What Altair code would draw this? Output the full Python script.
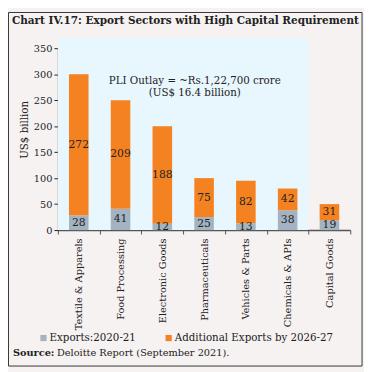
import altair as alt
import pandas as pd

categories = ["Textile & Apparels", "Food Processing", "Electronic Goods",
              "Pharmaceuticals", "Vehicles & Parts", "Chemicals & APIs", "Capital Goods"]
exports_2021 = [28, 41, 12, 25, 13, 38, 19]
additional_2027 = [272, 209, 188, 75, 82, 42, 31]
series_names = ["Exports:2020-21", "Additional Exports by 2026-27"]
series_colors = ["#a3b3c2", "#f58220"]
y_ticks = [0, 50, 100, 150, 200, 250, 300, 350]

rows = []
for i, c in enumerate(categories):
    rows.append({"sector": c, "series": series_names[0], "value": exports_2021[i], "ord": 0})
    rows.append({"sector": c, "series": series_names[1], "value": additional_2027[i], "ord": 1})
df = pd.DataFrame(rows)

SERIF = "DejaVu Serif"
W, H = 299, 186

x_axis = alt.Axis(labelAngle=-90, labelFont=SERIF, labelFontSize=10, labelColor="#222",
                  domainColor="#555", domainWidth=1.5, tickColor="#555", tickBand="extent",
                  tickSize=4, labelPadding=4)
x_scale = alt.Scale(paddingInner=0, paddingOuter=0)
y_scale = alt.Scale(domain=[0, 350], nice=False)
y_axis = alt.Axis(values=y_ticks, labelFont=SERIF, labelFontSize=10, labelColor="#222",
                  labelOverlap=False, grid=False, domainColor="#222", tickColor="#222", tickSize=4,
                  titleFont=SERIF, titleFontSize=10.5, titleFontWeight="normal",
                  titleColor="#222", titleAngle=-90, titleAlign="center", titleBaseline="middle",
                  titleX=-34, titleY=83)

base = alt.Chart(df)

bars = base.mark_bar(size=20).encode(
    x=alt.X("sector:N", sort=categories, title=None, scale=x_scale, axis=x_axis),
    y=alt.Y("value:Q", stack="zero", scale=y_scale, title="US$ billion", axis=y_axis),
    color=alt.Color("series:N", sort=series_names,
                    scale=alt.Scale(domain=series_names, range=series_colors),
                    legend=alt.Legend(title=None, orient="none", legendX=-20, legendY=291,
                                      direction="horizontal", symbolType="square", symbolSize=40,
                                      symbolStrokeWidth=0, labelFont=SERIF, labelFontSize=10.5,
                                      labelColor="#222", columnPadding=28, labelOffset=1,
                                      labelLimit=400)),
    order=alt.Order("ord:Q"),
)

labels = base.transform_stack(
    stack="value", as_=["v0", "v1"], groupby=["sector"], sort=[alt.SortField("ord")]
).transform_calculate(mid="(datum.v0 + datum.v1) / 2").mark_text(
    font=SERIF, fontSize=11, color="#222", baseline="middle"
).encode(
    x=alt.X("sector:N", sort=categories, title=None, scale=x_scale, axis=x_axis),
    y=alt.Y("mid:Q", scale=y_scale, title="US$ billion", axis=y_axis),
    text="value:Q",
)

bg = alt.Chart(pd.DataFrame({"a": [0]})).mark_rect(color="#e8f6fd").encode(
    x=alt.value(0), x2=alt.value(256), y=alt.value(-10), y2=alt.value(H))

border = alt.Chart(pd.DataFrame({"a": [0]})).mark_rect(
    fill=None, stroke="#333", strokeWidth=1).encode(
    x=alt.value(-50.5), x2=alt.value(311), y=alt.value(-36.5), y2=alt.value(325))

note1 = alt.Chart(pd.DataFrame({"t": ["PLI Outlay = ~Rs.1,22,700 crore"]})).mark_text(
    font=SERIF, fontSize=10.5, color="#222", align="center", baseline="middle").encode(
    x=alt.value(140), y=alt.value(34), text="t:N")
note2 = alt.Chart(pd.DataFrame({"t": ["(US$ 16.4 billion)"]})).mark_text(
    font=SERIF, fontSize=10.5, color="#222", align="center", baseline="middle").encode(
    x=alt.value(140), y=alt.value(46), text="t:N")

title = alt.Chart(pd.DataFrame({"t": ["Chart IV.17: Export Sectors with High Capital Requirement"]})).mark_text(
    font=SERIF, fontSize=10.7, fontWeight="bold", color="#222", align="left", baseline="middle").encode(
    x=alt.value(-47), y=alt.value(-28), text="t:N")

src1 = alt.Chart(pd.DataFrame({"t": ["Source:"]})).mark_text(
    font=SERIF, fontSize=10, fontWeight="bold", color="#222", align="left", baseline="middle").encode(
    x=alt.value(-46), y=alt.value(312), text="t:N")
src2 = alt.Chart(pd.DataFrame({"t": ["Deloitte Report (September 2021)."]})).mark_text(
    font=SERIF, fontSize=10, color="#222", align="left", baseline="middle").encode(
    x=alt.value(-1), y=alt.value(312), text="t:N")

chart = alt.layer(bg, bars, labels, note1, note2, title, src1, src2, border).properties(
    width=W, height=H,
    padding={"left": 51, "top": 37, "right": 14, "bottom": 141},
    autosize=alt.AutoSizeParams(type="none"),
    background="#f6f2f2",
).configure_view(stroke=None)

chart.save("out.html", embed_options={"renderer": "svg", "actions": False})
